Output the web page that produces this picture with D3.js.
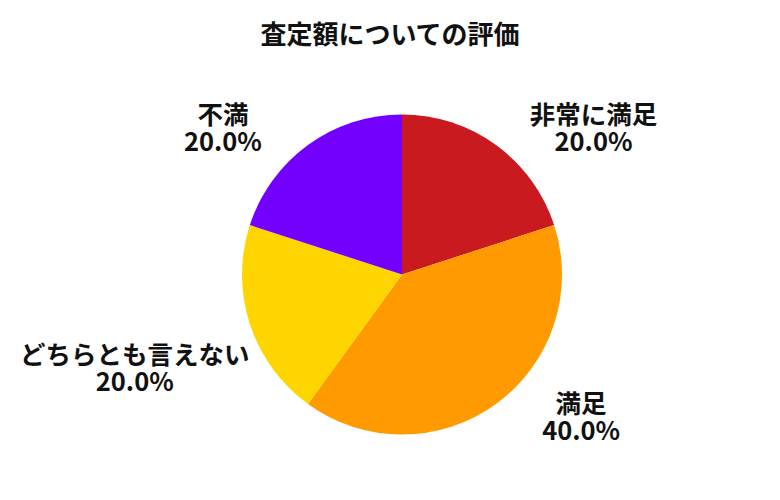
<!DOCTYPE html>
<html>
<head>
<meta charset="utf-8">
<script src="https://cdn.jsdelivr.net/npm/d3@7"></script>
<style>
  body { margin: 0; background: #ffffff; }
  text { font-family: "Noto Sans CJK JP", "Noto Sans", sans-serif; font-weight: bold; }
</style>
</head>
<body>
<div id="view"></div>
<script>
var width = 780, height = 500;

// データ
var title = "査定額についての評価";
var categories = ["非常に満足", "満足", "どちらとも言えない", "不満"];
var values = [20.0, 40.0, 20.0, 20.0];
var colors = ["#c91b1f", "#ff9a00", "#ffd500", "#7300ff"];

var cx = 402, cy = 274.5, radius = 160;

var svg = d3.select("#view").append("svg")
	.attr("width", width)
	.attr("height", height);

// タイトル
svg.append("text")
	.attr("x", width / 2)
	.attr("y", 44)
	.attr("text-anchor", "middle")
	.style("font-size", "26px")
	.style("fill", "#111111")
	.text(title);

var pie = d3.pie().sort(null).value(function(d) { return d; });
var arcs = pie(values);
var arc = d3.arc().innerRadius(0).outerRadius(radius);

var g = svg.append("g").attr("transform", "translate(" + cx + "," + cy + ")");

g.selectAll(".slice")
	.data(arcs).enter()
	.append("path")
	.attr("class", "slice")
	.attr("d", arc)
	.style("fill", function(d, i) { return colors[i]; });

// ラベル: 中心角の方向に置き、はみ出したら画面内に寄せて円と重ならないようにずらす
var labelArc = d3.arc().innerRadius(178).outerRadius(178);
var lineH = 27, gap = 55, edge = 20, clear = 165, lift = 4;

var labels = g.selectAll(".label")
	.data(arcs).enter()
	.append("text")
	.attr("class", "label")
	.attr("text-anchor", "middle")
	.style("font-size", "25.5px")
	.style("fill", "#111111");

labels.append("tspan").attr("x", 0).attr("dy", 0)
	.text(function(d, i) { return categories[i]; });
labels.append("tspan").attr("x", 0).attr("dy", lineH)
	.text(function(d) { return d.value.toFixed(1) + "%"; });

labels.each(function(d) {
	var el = d3.select(this);
	var bb = this.getBBox();
	var hw = bb.width / 2, hh = bb.height / 2;
	var p = labelArc.centroid(d);
	var sx = p[0] < 0 ? -1 : 1, sy = p[1] < 0 ? -1 : 1;
	var x = p[0] + sx * (hw / 2 + gap);
	var y = p[1];
	// 画面の左右に収める
	if (cx + x - hw < edge) x = edge + hw - cx;
	if (cx + x + hw > width - edge) x = width - edge - hw - cx;
	// 円と重なる場合は上下にずらす
	var nx = Math.max(0, Math.abs(x) - hw);
	var ny = Math.max(0, Math.abs(y) - hh);
	if (nx < clear && Math.sqrt(nx * nx + ny * ny) < clear) {
		ny = Math.sqrt(clear * clear - nx * nx);
		y = sy * (ny + hh);
	}
	// ブロック中心 -> 1行目のベースライン
	var off = bb.y + bb.height / 2;
	el.attr("transform", "translate(" + x + "," + (y - off - lift) + ")");
});
</script>
</body>
</html>
